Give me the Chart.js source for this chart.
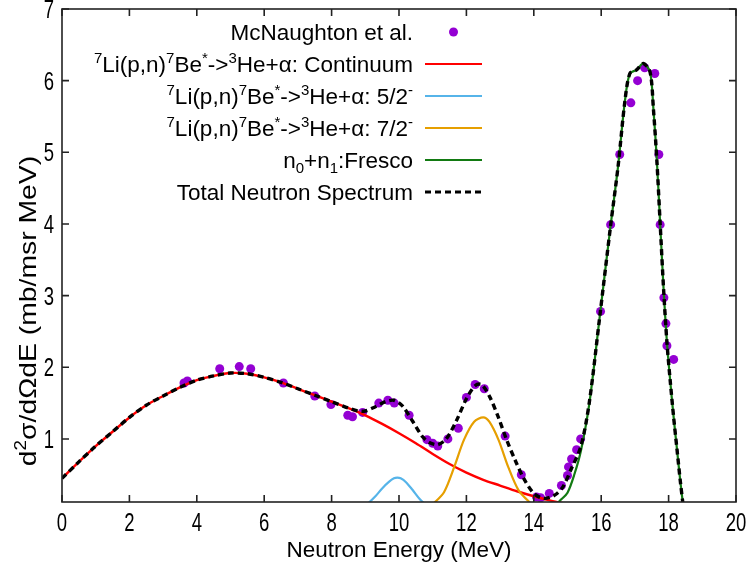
<!DOCTYPE html>
<html>
<head>
<meta charset="utf-8">
<script src="https://cdn.jsdelivr.net/npm/chart.js@4.4.1/dist/chart.umd.min.js"></script>
<style>
  html, body { margin: 0; padding: 0; background: #ffffff; }
  #wrap { width: 752px; height: 569px; }
</style>
</head>
<body>
<div id="wrap"><canvas id="c" width="752" height="569"></canvas></div>
<script>
// Axis ticks
const xTicks = [0, 2, 4, 6, 8, 10, 12, 14, 16, 18, 20];
const yTicks = [1, 2, 3, 4, 5, 6, 7];

// McNaughton et al. measured spectrum
const expEnergy = [3.62, 3.72, 4.68, 5.26, 5.60, 6.57, 7.50, 7.98, 8.48, 8.62, 8.92, 9.40, 9.67, 9.86,
  10.30, 10.83, 11.00, 11.15, 11.45, 11.76, 12.00, 12.26, 12.53, 13.15, 13.63, 14.08, 14.20, 14.46,
  14.82, 15.00, 15.03, 15.12, 15.27, 15.39, 15.98, 16.28, 16.55, 16.88, 17.08, 17.29, 17.59, 17.71,
  17.75, 17.86, 17.92, 17.95, 18.15];
const expValue = [1.78, 1.81, 1.98, 2.01, 1.98, 1.78, 1.60, 1.48, 1.33, 1.31, 1.37, 1.50, 1.54, 1.50,
  1.33, 0.99, 0.94, 0.90, 1.00, 1.15, 1.58, 1.76, 1.70, 1.04, 0.50, 0.19, 0.18, 0.24,
  0.35, 0.49, 0.61, 0.72, 0.85, 1.00, 2.78, 3.99, 4.97, 5.69, 6.00, 6.18, 6.10, 4.97,
  3.99, 2.97, 2.61, 2.30, 2.11];

// 7Li(p,n)7Be* -> 3He+alpha continuum
const contEnergy = [0, 0.5, 1, 1.5, 2, 2.5, 3, 3.5, 4, 4.5, 5, 5.5, 6, 6.5, 7, 7.5, 8, 8.5, 9, 9.5,
  10, 10.5, 11, 11.5, 12, 12.5, 13, 13.5, 14, 14.5, 15];
const contValue = [0.45, 0.68, 0.90, 1.10, 1.30, 1.47, 1.60, 1.72, 1.82, 1.88, 1.92, 1.91, 1.86, 1.79,
  1.70, 1.61, 1.52, 1.43, 1.33, 1.21, 1.08, 0.94, 0.79, 0.65, 0.53, 0.43, 0.35, 0.27, 0.20, 0.14, 0.09];

// 5/2- resonance
const res52Energy = [8.9, 9.1, 9.3, 9.5, 9.7, 9.85, 9.95, 10.05, 10.2, 10.4, 10.6, 10.8, 11.0];
const res52Value = [0.04, 0.11, 0.20, 0.31, 0.40, 0.45, 0.46, 0.45, 0.40, 0.29, 0.17, 0.08, 0.02];

// 7/2- resonance
const res72Energy = [10.8, 11.07, 11.34, 11.64, 11.93, 12.23, 12.5, 12.68, 12.95, 13.24, 13.54, 13.87, 14.1];
const res72Value = [0.02, 0.12, 0.26, 0.61, 0.99, 1.24, 1.30, 1.24, 0.99, 0.61, 0.29, 0.12, 0.04];

// n0+n1 from Fresco
const frescoEnergy = [14.6, 14.8, 15.0, 15.2, 15.4, 15.65, 15.95, 16.28, 16.5, 16.7, 16.85, 17.05, 17.25,
  17.45, 17.55, 17.65, 17.75, 17.85, 17.95, 18.05, 18.15, 18.25, 18.35, 18.45];
const frescoValue = [0.05, 0.15, 0.25, 0.50, 0.84, 1.50, 2.68, 3.98, 4.80, 5.70, 6.10, 6.15, 6.24,
  6.12, 5.60, 4.90, 4.00, 3.10, 2.35, 1.80, 1.30, 0.85, 0.40, 0.00];

// Total neutron spectrum
const totalEnergy = [0, 0.5, 1, 1.5, 2, 2.5, 3, 3.5, 4, 4.5, 5, 5.5, 6, 6.5, 7, 7.5, 8, 8.5, 8.8, 9.0,
  9.3, 9.6, 9.85, 10.1, 10.4, 10.7, 10.9, 11.15, 11.4, 11.7, 12.0, 12.25, 12.45, 12.7, 12.95, 13.2,
  13.45, 13.7, 14.0, 14.3, 14.6, 14.85, 15.1, 15.4, 15.65, 15.95, 16.28, 16.5, 16.7, 16.85, 17.05,
  17.25, 17.45, 17.55, 17.65, 17.75, 17.85, 17.95, 18.05, 18.15, 18.25, 18.35, 18.45];
const totalValue = [0.45, 0.68, 0.90, 1.10, 1.30, 1.47, 1.60, 1.72, 1.82, 1.88, 1.92, 1.91, 1.86, 1.79,
  1.70, 1.61, 1.52, 1.43, 1.39, 1.39, 1.45, 1.52, 1.54, 1.46, 1.25, 1.03, 0.95, 0.92, 1.00, 1.25,
  1.56, 1.74, 1.76, 1.58, 1.30, 0.98, 0.70, 0.45, 0.24, 0.17, 0.21, 0.32, 0.57, 0.90, 1.52, 2.68,
  3.98, 4.80, 5.70, 6.10, 6.15, 6.24, 6.12, 5.60, 4.90, 4.00, 3.10, 2.35, 1.80, 1.30, 0.85, 0.40, 0.00];

const pts = (xs, ys) => xs.map((x, i) => ({ x: x, y: ys[i] }));

const FONT = '"Liberation Sans", Arial, Helvetica, sans-serif';
const COL_EXP = '#9400d3';
const COL_CONT = '#ff0000';
const COL_52 = '#56b4e9';
const COL_72 = '#e69f00';
const COL_FRESCO = '#127a12';
const COL_TOTAL = '#000000';

// Legend entries as rich-text pieces: [text, kind] with kind '' | 'sup' | 'sub'
const reaction = [['7', 'sup'], ['Li(p,n)', ''], ['7', 'sup'], ['Be', ''], ['*', 'sup'], ['->', ''], ['3', 'sup'], ['He+\u03b1: ', '']];
const legendItems = [
  { parts: [['McNaughton et al.', '']], kind: 'point', color: COL_EXP },
  { parts: reaction.concat([['Continuum', '']]), kind: 'line', color: COL_CONT, width: 2.2 },
  { parts: reaction.concat([['5/2', ''], ['-', 'sup']]), kind: 'line', color: COL_52, width: 2.2 },
  { parts: reaction.concat([['7/2', ''], ['-', 'sup']]), kind: 'line', color: COL_72, width: 2.2 },
  { parts: [['n', ''], ['0', 'sub'], ['+n', ''], ['1', 'sub'], [':Fresco', '']], kind: 'line', color: COL_FRESCO, width: 2.2 },
  { parts: [['Total Neutron Spectrum', '']], kind: 'dash', color: COL_TOTAL, width: 3 }
];
const yTitle = [['d', ''], ['2', 'sup'], ['\u03c3/d\u03a9dE (mb/msr MeV)', '']];
const xTitle = [['Neutron Energy (MeV)', '']];

function partFont(size, kind) {
  return (kind ? Math.round(size * 0.66) : size) + 'px ' + FONT;
}
function richWidth(ctx, parts, size) {
  let w = 0;
  for (const [t, k] of parts) { ctx.font = partFont(size, k); w += ctx.measureText(t).width; }
  return w;
}
// Draws rich text with its left end at x and alphabetic baseline at y
function drawRich(ctx, parts, x, y, size) {
  ctx.textBaseline = 'alphabetic';
  ctx.textAlign = 'left';
  for (const [t, k] of parts) {
    ctx.font = partFont(size, k);
    const dy = k === 'sup' ? -size * 0.42 : (k === 'sub' ? size * 0.2 : 0);
    ctx.fillText(t, x, y + dy);
    x += ctx.measureText(t).width;
  }
}

// Tick numerals are set in a condensed face: horizontal squeeze of the regular one
const TICK_SIZE = 25, TICK_SQUEEZE = 0.74;
function drawTickLabel(ctx, text, x, baseline, align) {
  ctx.save();
  ctx.font = TICK_SIZE + 'px ' + FONT;
  ctx.textBaseline = 'alphabetic';
  ctx.textAlign = align;
  ctx.translate(x, baseline);
  ctx.scale(TICK_SQUEEZE, 1);
  ctx.fillText(text, 0, 0);
  ctx.restore();
}

const framePlugin = {
  id: 'frame',
  afterDatasetsDraw(chart) {
    const { ctx, chartArea: a, scales } = chart;
    ctx.save();
    ctx.strokeStyle = '#222222';
    ctx.lineWidth = 1.6;
    ctx.strokeRect(a.left, a.top, a.right - a.left, a.bottom - a.top);
    // inward tick marks on all four sides
    const tl = 7;
    ctx.beginPath();
    for (const t of scales.x.ticks) {
      const px = scales.x.getPixelForValue(t.value);
      ctx.moveTo(px, a.bottom); ctx.lineTo(px, a.bottom - tl);
      ctx.moveTo(px, a.top); ctx.lineTo(px, a.top + tl);
    }
    for (const t of scales.y.ticks) {
      const py = scales.y.getPixelForValue(t.value);
      ctx.moveTo(a.left, py); ctx.lineTo(a.left + tl, py);
      ctx.moveTo(a.right, py); ctx.lineTo(a.right - tl, py);
    }
    ctx.stroke();
    ctx.restore();
  },
  afterDraw(chart) {
    const { ctx, chartArea: a, scales } = chart;
    const size = 22.5;
    ctx.save();
    ctx.fillStyle = '#000000';
    // Tick numerals
    for (const t of scales.x.ticks) {
      drawTickLabel(ctx, String(t.value), scales.x.getPixelForValue(t.value), a.bottom + 29, 'center');
    }
    for (const t of scales.y.ticks) {
      drawTickLabel(ctx, String(t.value), a.left - 8, scales.y.getPixelForValue(t.value) + 9, 'right');
    }
    // Axis titles
    const xw = richWidth(ctx, xTitle, size);
    drawRich(ctx, xTitle, (a.left + a.right) / 2 - xw / 2, 557, size);
    ctx.translate(36, 311);
    ctx.rotate(-Math.PI / 2);
    ctx.scale(1.18, 1);
    const ysize = 24;
    const yw = richWidth(ctx, yTitle, ysize);
    drawRich(ctx, yTitle, -yw / 2, 0, ysize);
    ctx.restore();

    // Legend
    ctx.save();
    const textRight = 413, sx0 = 425, sx1 = 482;
    legendItems.forEach((it, i) => {
      const cy = 32 + i * 32;
      ctx.fillStyle = '#000000';
      const w = richWidth(ctx, it.parts, size);
      drawRich(ctx, it.parts, textRight - w, cy + 8, size);
      if (it.kind === 'point') {
        ctx.fillStyle = it.color;
        ctx.beginPath(); ctx.arc((sx0 + sx1) / 2, cy, 4.5, 0, Math.PI * 2); ctx.fill();
      } else {
        ctx.strokeStyle = it.color;
        ctx.lineWidth = it.width;
        ctx.setLineDash(it.kind === 'dash' ? [6, 4] : []);
        ctx.beginPath(); ctx.moveTo(sx0, cy); ctx.lineTo(sx1, cy); ctx.stroke();
        ctx.setLineDash([]);
      }
    });
    ctx.restore();
  }
};

const lineDs = (label, xs, ys, color, width, order, dash) => ({
  label: label,
  data: pts(xs, ys),
  borderColor: color,
  backgroundColor: color,
  borderWidth: width,
  borderDash: dash || [],
  pointRadius: 0,
  showLine: true,
  fill: false,
  tension: 0.3,
  order: order
});

new Chart(document.getElementById('c'), {
  type: 'scatter',
  data: {
    datasets: [
      {
        label: 'McNaughton et al.',
        data: pts(expEnergy, expValue),
        backgroundColor: COL_EXP,
        borderColor: COL_EXP,
        pointRadius: 4.5,
        pointBorderWidth: 0,
        showLine: false,
        order: 6
      },
      lineDs('Continuum', contEnergy, contValue, COL_CONT, 2.4, 5),
      lineDs('5/2-', res52Energy, res52Value, COL_52, 2.2, 4),
      lineDs('7/2-', res72Energy, res72Value, COL_72, 2.2, 3),
      lineDs('n0+n1:Fresco', frescoEnergy, frescoValue, COL_FRESCO, 2.2, 2),
      lineDs('Total Neutron Spectrum', totalEnergy, totalValue, COL_TOTAL, 3.4, 1, [6, 4])
    ]
  },
  options: {
    responsive: false,
    animation: false,
    devicePixelRatio: 1,
    layout: { padding: { top: 9, right: 16, left: 0, bottom: 0 } },
    plugins: { legend: { display: false }, tooltip: { enabled: false } },
    scales: {
      x: {
        type: 'linear', min: 0, max: 20,
        grid: { display: false, drawTicks: false },
        border: { display: false },
        afterBuildTicks: s => { s.ticks = xTicks.map(v => ({ value: v })); },
        afterFit: s => { s.height = 67; },
        ticks: { display: false }
      },
      y: {
        type: 'linear', min: 0.12, max: 7,
        grid: { display: false, drawTicks: false },
        border: { display: false },
        afterBuildTicks: s => { s.ticks = yTicks.map(v => ({ value: v })); },
        afterFit: s => { s.width = 62; },
        ticks: { display: false }
      }
    }
  },
  plugins: [framePlugin]
});
</script>
</body>
</html>
